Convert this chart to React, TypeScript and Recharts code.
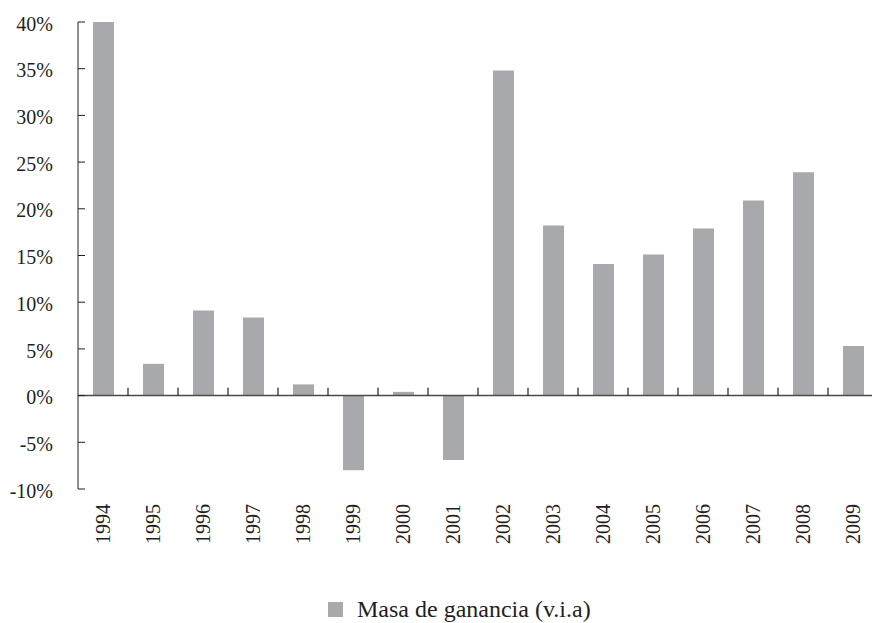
import React from 'react';
import { BarChart, Bar, XAxis, YAxis, ReferenceLine, Legend } from 'recharts';

const years = ['1994', '1995', '1996', '1997', '1998', '1999', '2000', '2001', '2002', '2003', '2004', '2005', '2006', '2007', '2008', '2009'];
const masaGanancia = [40, 3.4, 9.1, 8.35, 1.2, -8.0, 0.4, -6.9, 34.8, 18.2, 14.1, 15.1, 17.9, 20.9, 23.9, 5.3];
const yTicks = [-10, -5, 0, 5, 10, 15, 20, 25, 30, 35, 40];
const seriesName = 'Masa de ganancia (v.i.a)';

const data = years.map((year, i) => ({ year, value: masaGanancia[i] }));

const FONT = '"Liberation Serif", "Times New Roman", serif';
const INK = '#231f20';
const BAR = '#a8a9ad';

// rotated year labels, reading bottom to top
const YearTick = (props: any) => {
  const { x, y, payload } = props;
  return (
    <text
      x={x}
      y={y}
      transform={`rotate(-90, ${x}, ${y})`}
      textAnchor="end"
      dominantBaseline="central"
      fontFamily={FONT}
      fontSize={20}
      fill={INK}
    >
      {payload.value}
    </text>
  );
};

const LegendContent = () => (
  <div style={{ display: 'flex', alignItems: 'center', fontFamily: FONT, color: INK, whiteSpace: 'nowrap' }}>
    <span style={{ width: 15, height: 15, background: BAR, marginRight: 14, display: 'inline-block' }} />
    <span style={{ fontSize: 24, lineHeight: '24px' }}>{seriesName}</span>
  </div>
);

export default function App() {
  return (
    <div style={{ position: 'absolute', left: 0, top: 0, width: 872, height: 623, overflow: 'hidden', background: '#fff' }}>
      <BarChart width={880} height={623} data={data} margin={{ top: 22, right: 2, left: 0, bottom: 0 }}>
        <YAxis
          width={78}
          domain={[-10, 40]}
          ticks={yTicks}
          interval={0}
          tickFormatter={(v: number) => `${v}%`}
          axisLine={{ stroke: INK, strokeWidth: 1 }}
          tickLine={{ stroke: INK, strokeWidth: 1 }}
          tickSize={-7}
          tickMargin={32}
          tick={{ fontFamily: FONT, fontSize: 20, fill: INK, dy: 1.5 }}
        />
        <XAxis
          dataKey="year"
          height={134}
          axisLine={false}
          tickLine={false}
          tickSize={0}
          tickMargin={15}
          interval={0}
          tick={<YearTick />}
        />
        <ReferenceLine y={0} stroke="#4a4a4a" strokeWidth={1.5} />
        {years.slice(1).map((yr) => (
          <ReferenceLine
            key={yr}
            position="start"
            segment={[{ x: yr, y: 0 }, { x: yr, y: 0.85 }]}
            stroke={INK}
            strokeWidth={1.2}
          />
        ))}
        <Bar dataKey="value" name={seriesName} fill={BAR} barSize={21} isAnimationActive={false} />
        <Legend
          layout="vertical"
          align="center"
          verticalAlign="middle"
          wrapperStyle={{ top: 597, left: 328, width: 'auto', height: 'auto' }}
          content={<LegendContent />}
        />
      </BarChart>
    </div>
  );
}
